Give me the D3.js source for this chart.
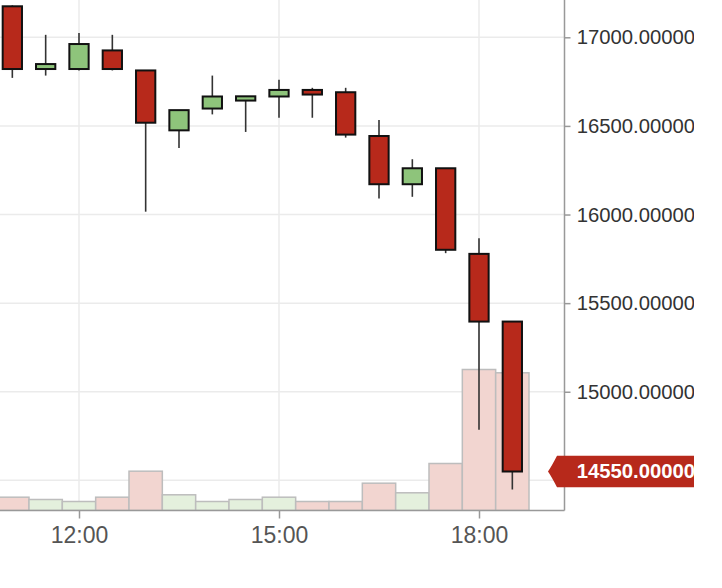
<!DOCTYPE html>
<html><head><meta charset="utf-8">
<script src="https://cdn.jsdelivr.net/npm/d3@7"></script>
<style>html,body{margin:0;padding:0;background:#fff;} svg{display:block;}</style>
</head><body>
<svg id="chart" width="694" height="588"></svg>
<script>
// ---- data ----
const times  = ["11:00","11:30","12:00","12:30","13:00","13:30","14:00","14:30","15:00","15:30","16:00","16:30","17:00","17:30","18:00","18:30"];
const open   = [17175, 16821, 16821, 16926, 16813, 16475, 16598, 16643, 16666, 16703, 16690, 16443, 16171, 16261, 15778, 15396];
const high   = [17180, 17014, 17024, 17014, 16813, 16589, 16784, 16667, 16761, 16715, 16715, 16533, 16312, 16261, 15866, 15396];
const low    = [16771, 16784, 16813, 16813, 16016, 16375, 16565, 16466, 16546, 16546, 16434, 16091, 16100, 15782, 14785, 14449];
const close  = [16821, 16849, 16962, 16821, 16518, 16589, 16666, 16667, 16703, 16677, 16451, 16171, 16261, 15801, 15396, 14550];
const volume = [133, 110, 90, 133, 393, 157, 90, 110, 133, 90, 90, 273, 177, 470, 1410, 1377];
const priceTicks = [14500, 15000, 15500, 16000, 16500, 17000];
const timeTicks  = ["12:00", "15:00", "18:00"];
const lastPrice  = 14550;

const parseT = s => { const [h, m] = s.split(":").map(Number); return new Date(2022, 10, 9, h, m); };
const candles = times.map((t, i) => ({t: parseT(t), o: open[i], h: high[i], l: low[i], c: close[i], v: volume[i]}));

const RED = "#b7291b", GREEN = "#8ec47b";
const VRED = "#f2d5d0", VGREEN = "#e4f0dd";
const plotR = 564.5, plotB = 510.5;
const FONT = "'Liberation Sans', Arial, Helvetica, sans-serif";

const svg = d3.select("#chart");

// x scale: 12:00 -> 79, 18:00 -> 479, visible range [0, plotR]
const x0 = d3.scaleTime().domain([parseT("12:00"), parseT("18:00")]).range([79, 479]);
const x = d3.scaleTime().domain([x0.invert(0), x0.invert(plotR)]).range([0, plotR]);
const y = d3.scaleLinear().domain([14550, 17000]).range([471.5, 37.3]);
const vy = d3.scaleLinear().domain([0, 1500]).range([plotB, plotB - 150]);

const step = x(parseT("11:30")) - x(parseT("11:00"));

svg.append("clipPath").attr("id", "plotclip")
  .append("rect").attr("x", 0).attr("y", 0).attr("width", plotR).attr("height", plotB);

// grid
const grid = svg.append("g").attr("clip-path", "url(#plotclip)");
grid.selectAll("line.h").data(priceTicks).join("line")
  .attr("x1", 0).attr("x2", plotR).attr("y1", d => y(d)).attr("y2", d => y(d))
  .attr("stroke", "#ebebeb").attr("stroke-width", 1.5);
grid.selectAll("line.v").data(timeTicks.map(parseT)).join("line")
  .attr("x1", d => x(d)).attr("x2", d => x(d)).attr("y1", 0).attr("y2", plotB)
  .attr("stroke", "#ebebeb").attr("stroke-width", 1.5);

const plot = svg.append("g").attr("clip-path", "url(#plotclip)");

// volume bars
plot.selectAll("rect.vol").data(candles).join("rect")
  .attr("x", d => x(d.t) - step / 2)
  .attr("width", step)
  .attr("y", d => vy(d.v))
  .attr("height", d => plotB - vy(d.v))
  .attr("fill", d => d.c >= d.o ? VGREEN : VRED)
  .attr("stroke", "#bdbdbd").attr("stroke-width", 1.5);

// wicks
plot.selectAll("line.wick").data(candles).join("line")
  .attr("x1", d => x(d.t)).attr("x2", d => x(d.t))
  .attr("y1", d => y(d.h)).attr("y2", d => y(d.l))
  .attr("stroke", "#333").attr("stroke-width", 1.6);

// bodies
const bw = 19.3;
plot.selectAll("rect.body").data(candles).join("rect")
  .attr("x", d => x(d.t) - bw / 2)
  .attr("width", bw)
  .attr("y", d => y(Math.max(d.o, d.c)))
  .attr("height", d => Math.max(1.5, Math.abs(y(d.o) - y(d.c))))
  .attr("fill", d => d.c >= d.o ? GREEN : RED)
  .attr("stroke", "#111").attr("stroke-width", 2);

// y axis (right)
const yAxis = d3.axisRight(y).tickValues(priceTicks).tickSize(6).tickPadding(6.2)
  .tickFormat(d => d.toFixed(6));
const gy = svg.append("g").attr("transform", `translate(${plotR},0)`).call(yAxis);
gy.select(".domain").remove();
gy.selectAll(".tick line").attr("stroke", "#999").attr("stroke-width", 1.5);
gy.selectAll(".tick text").attr("fill", "#333")
  .style("font-family", FONT).style("font-size", "20.3px");
svg.append("line").attr("x1", plotR).attr("x2", plotR).attr("y1", 0).attr("y2", plotB)
  .attr("stroke", "#999").attr("stroke-width", 1.5);

// x axis (bottom)
const xAxis = d3.axisBottom(x).tickValues(timeTicks.map(parseT)).tickSize(8).tickPadding(8.5)
  .tickFormat(d3.timeFormat("%H:%M"));
const gx = svg.append("g").attr("transform", `translate(0,${plotB})`).call(xAxis);
gx.select(".domain").remove();
gx.selectAll(".tick line").attr("stroke", "#999").attr("stroke-width", 1.5);
gx.selectAll(".tick text").attr("fill", "#555")
  .style("font-family", FONT).style("font-size", "23px");
svg.append("line").attr("x1", 0).attr("x2", plotR).attr("y1", plotB).attr("y2", plotB)
  .attr("stroke", "#999").attr("stroke-width", 1.5);

// last price label
const ly = y(lastPrice), hh = 15.8;
svg.append("path")
  .attr("d", `M548,${ly} Q552,${ly - 6} 557,${ly - hh} L700,${ly - hh} L700,${ly + hh} L557,${ly + hh} Q552,${ly + 6} 548,${ly} Z`)
  .attr("fill", RED);
svg.append("text")
  .attr("x", plotR + 12.2).attr("y", ly).attr("dy", "0.34em")
  .attr("fill", "#fff")
  .style("font-family", FONT).style("font-size", "20.3px")
  .style("font-weight", "bold")
  .text(lastPrice.toFixed(6));
</script>
</body></html>
